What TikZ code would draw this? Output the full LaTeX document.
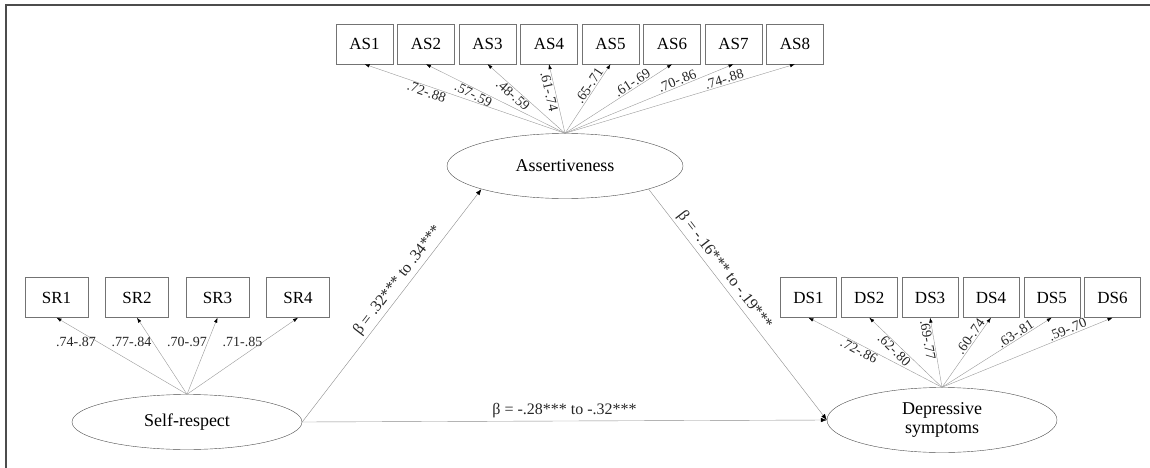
\documentclass[tikz,border=0pt]{standalone}
\usepackage{fontspec}
\setmainfont{Liberation Serif}
\usetikzlibrary{arrows.meta,shapes.geometric}
\tikzset{
  item/.style={draw=black!55, minimum height=40pt, inner sep=0pt, font=\fontsize{17}{20}\selectfont},
  latent/.style={ellipse, draw=black!70, inner sep=0pt, align=center, font=\fontsize{18}{19}\selectfont},
  load/.style={draw=black!40, -{Latex[length=5pt, width=3.5pt, color=black]}},
  regr/.style={draw=black!45, -{Latex[length=6pt, width=4.5pt, color=black]}},
  coef/.style={font=\fontsize{14}{14}\selectfont, inner sep=1pt, text=black!85},
  beta/.style={font=\fontsize{16}{16}\selectfont, inner sep=3pt, text=black!85}
}
\begin{document}
\begin{tikzpicture}[x=1pt, y=-1pt]
    \useasboundingbox (0,0) rectangle (1150,468);
    \draw[line width=2pt, black!70] (6,468) -- (6,5) -- (1150,5);
    % latent variables
    \node[latent, minimum width=236pt, minimum height=65pt] (AS) at (565,166) {Assertiveness};
    \node[latent, minimum width=230pt, minimum height=55pt] (SR) at (187,422) {Self-respect};
    \node[latent, minimum width=230pt, minimum height=65pt] (DS) at (942,420) {Depressive\\symptoms};
    % indicators
    \node[item, minimum width=57pt] (AS1) at (364.5,44) {AS1};
    \node[item, minimum width=57pt] (AS2) at (426,44) {AS2};
    \node[item, minimum width=57pt] (AS3) at (487.5,44) {AS3};
    \node[item, minimum width=57pt] (AS4) at (549,44) {AS4};
    \node[item, minimum width=57pt] (AS5) at (610.5,44) {AS5};
    \node[item, minimum width=57pt] (AS6) at (672,44) {AS6};
    \node[item, minimum width=57pt] (AS7) at (733.5,44) {AS7};
    \node[item, minimum width=57pt] (AS8) at (795,44) {AS8};
    \node[item, minimum width=63pt] (SR1) at (56.5,297.5) {SR1};
    \node[item, minimum width=63pt] (SR2) at (137,297.5) {SR2};
    \node[item, minimum width=63pt] (SR3) at (217.5,297.5) {SR3};
    \node[item, minimum width=63pt] (SR4) at (298,297.5) {SR4};
    \node[item, minimum width=56pt] (DS1) at (808.5,297.5) {DS1};
    \node[item, minimum width=56pt] (DS2) at (869.3,297.5) {DS2};
    \node[item, minimum width=56pt] (DS3) at (930.1,297.5) {DS3};
    \node[item, minimum width=56pt] (DS4) at (990.9,297.5) {DS4};
    \node[item, minimum width=56pt] (DS5) at (1051.7,297.5) {DS5};
    \node[item, minimum width=56pt] (DS6) at (1112.5,297.5) {DS6};
    % loadings
    \draw[load] (AS.north) -- (AS1.south) node[coef, sloped, below, pos=0.68] {.72-.88};
    \draw[load] (AS.north) -- (AS2.south) node[coef, sloped, below, pos=0.64] {.57-.59};
    \draw[load] (AS.north) -- (AS3.south) node[coef, sloped, below, pos=0.62] {.48-.59};
    \draw[load] (AS.north) -- (AS4.south) node[coef, sloped, below, pos=0.62] {.61-.74};
    \draw[load] (AS.north) -- (AS5.south) node[coef, sloped, above, pos=0.64] {.65-.71};
    \draw[load] (AS.north) -- (AS6.south) node[coef, sloped, above, pos=0.66] {.61-.69};
    \draw[load] (AS.north) -- (AS7.south) node[coef, sloped, above, pos=0.68] {.70-.86};
    \draw[load] (AS.north) -- (AS8.south) node[coef, sloped, above, pos=0.7] {.74-.88};
    \draw[load] (SR.north) -- (SR1.south) node[coef, left, pos=0.69] {.74-.87};
    \draw[load] (SR.north) -- (SR2.south) node[coef, left, pos=0.69] {.77-.84};
    \draw[load] (SR.north) -- (SR3.south) node[coef, left, pos=0.69] {.70-.97};
    \draw[load] (SR.north) -- (SR4.south) node[coef, left, pos=0.69] {.71-.85};
    \draw[load] (DS.north) -- (DS1.south) node[coef, sloped, below, pos=0.6] {.72-.86};
    \draw[load] (DS.north) -- (DS2.south) node[coef, sloped, below, pos=0.6] {.62-.80};
    \draw[load] (DS.north) -- (DS3.south) node[coef, sloped, below, pos=0.69] {.69-.77};
    \draw[load] (DS.north) -- (DS4.south) node[coef, sloped, above, pos=0.68] {.60-.74};
    \draw[load] (DS.north) -- (DS5.south) node[coef, sloped, above, pos=0.7] {.63-.81};
    \draw[load] (DS.north) -- (DS6.south) node[coef, sloped, above, pos=0.75] {.59-.70};
    % structural paths
    \draw[regr] (SR.east) -- (AS.south west) node[beta, sloped, above, pos=0.58] {β = .32*** to .34***};
    \draw[regr] (AS.south east) -- (DS.west) node[beta, sloped, above, pos=0.38] {β = -.16*** to -.19***};
    \draw[regr] (SR.east) -- (DS.west) node[beta, above, pos=0.5] {β = -.28*** to -.32***};
\end{tikzpicture}
\end{document}
